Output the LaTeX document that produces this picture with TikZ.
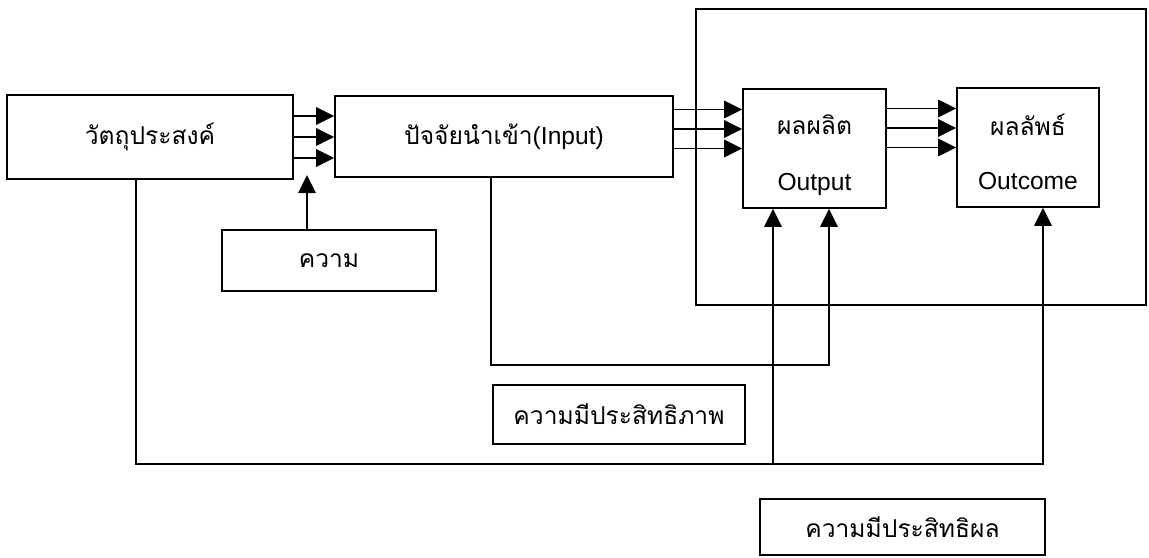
\documentclass[tikz,border=0pt]{standalone}
\usepackage{fontspec}
\setmainfont{Liberation Sans}
\newfontfamily\thaifont[Script=Thai]{Loma}
\usetikzlibrary{arrows.meta}

\begin{document}
\begin{tikzpicture}[font=\fontsize{14}{17}\selectfont, line width=1pt,
  box/.style={rectangle,draw,align=center,inner sep=1pt},
  >={Triangle[length=3.6mm,width=3.5mm]}]
  \useasboundingbox (0,0) rectangle (22.98,-11.14);
  % cadre
  \draw (13.92,-0.18) rectangle (22.92,-6.10);
  % boites
  \node[box,minimum width=5.72cm,minimum height=1.68cm] (obj) at (3.00,-2.74) {\thaifont วัตถุประสงค์};
  \node[box,minimum width=6.76cm,minimum height=1.62cm] (inp) at (10.08,-2.73) {{\thaifont ปัจจัยนำเข้า}(Input)};
  \node[box,minimum width=4.28cm,minimum height=1.22cm] (need) at (6.58,-5.21) {\thaifont ความ};
  \node[box,minimum width=2.86cm,minimum height=2.38cm] (outp) at (16.29,-2.97) {\rule{0pt}{19pt}{\thaifont ผลผลิต}\\[15pt]Output};
  \node[box,minimum width=2.84cm,minimum height=2.38cm] (outc) at (20.56,-2.95) {\rule{0pt}{17pt}{\thaifont ผลลัพธ์}\\[14pt]Outcome};
  \node[box,minimum width=5.04cm,minimum height=1.18cm] (effc) at (12.38,-8.29) {\thaifont ความมีประสิทธิภาพ};
  \node[box,minimum width=5.70cm,minimum height=1.12cm] (effv) at (18.05,-10.54) {\thaifont ความมีประสิทธิผล};
  % fleches
  \foreach \d in {0.42,0,-0.42}
    \draw[->] ([yshift=\d cm]obj.east) -- ([yshift=\d cm]obj.east -| inp.west);
  \foreach \d in {0.78,0.39,0} {
    \draw[->] ([yshift=\d cm]outp.west -| inp.east) -- ([yshift=\d cm]outp.west);
    \draw[->] ([yshift=\d cm]outc.west -| outp.east) -- ([yshift=\d cm]outc.west);
  }
  \coordinate (kin) at (6.14,-3.50);
  \draw[->] (kin |- need.north) -- (kin);
  % retours
  \coordinate (c1) at (9.82,-7.30);
  \coordinate (c2) at (2.72,-9.28);
  \draw[->] (c1 |- inp.south) -- (c1) -| ([xshift=0.29cm]outp.south);
  \draw[->] (c2 |- obj.south) -- (c2) -| ([xshift=0.30cm]outc.south);
  \draw[->] ([xshift=-0.83cm]outp.south |- c2) -- ([xshift=-0.83cm]outp.south);
\end{tikzpicture}
\end{document}
